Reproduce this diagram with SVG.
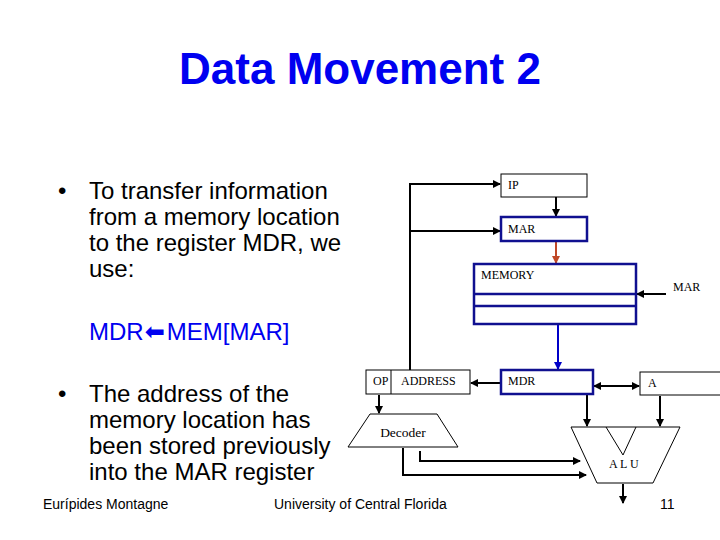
<svg xmlns="http://www.w3.org/2000/svg" width="720" height="540" viewBox="0 0 720 540">
<defs>
<style>
.sans{font-family:"Liberation Sans",Arial,sans-serif}
.serif{font-family:"Liberation Serif","Times New Roman",serif;font-size:12px;fill:#000}
.title{font-size:44px;font-weight:bold;fill:#0000f0}
.body{font-size:24px;fill:#000}
.foot{font-size:14px;fill:#000}
.thin{fill:#fff;stroke:#000;stroke-width:1}
.reg{fill:#fff;stroke:#101090;stroke-width:2.5}
.wire{fill:none;stroke:#000;stroke-width:2}
</style>
<marker id="ah" viewBox="0 0 8 8" refX="7" refY="4" markerWidth="8" markerHeight="8" markerUnits="userSpaceOnUse" orient="auto-start-reverse"><path d="M0,0 L8,4 L0,8 Z" fill="#000"/></marker>
<marker id="ahb" viewBox="0 0 8 8" refX="7" refY="4" markerWidth="8" markerHeight="8" markerUnits="userSpaceOnUse" orient="auto-start-reverse"><path d="M0,0 L8,4 L0,8 Z" fill="#0000c8"/></marker>
<marker id="ahr" viewBox="0 0 8 8" refX="7" refY="4" markerWidth="8" markerHeight="8" markerUnits="userSpaceOnUse" orient="auto-start-reverse"><path d="M0,0 L8,4 L0,8 Z" fill="#c04828"/></marker>
</defs>
<rect width="720" height="540" fill="#fff"/>
<text class="sans title" x="360" y="84" text-anchor="middle">Data Movement 2</text>
<g id="bullet1" class="sans body">
<text x="58" y="199">•</text>
<text x="89" y="199">To transfer information</text>
<text x="89" y="225">from a memory location</text>
<text x="89" y="251">to the register MDR, we</text>
<text x="89" y="277">use:</text>
</g>
<text class="sans body" x="89" y="340" fill="#0000f0" style="fill:#0000f0">MDR<tspan font-family="DejaVu Sans" dx="1">⬅</tspan><tspan dx="2">MEM[MAR]</tspan></text>
<g id="bullet2" class="sans body">
<text x="58" y="402">•</text>
<text x="89" y="402">The address of the</text>
<text x="89" y="428">memory location has</text>
<text x="89" y="454">been stored previously</text>
<text x="89" y="480">into the MAR register</text>
</g>
<g id="footer" class="sans foot">
<text x="43" y="509">Eurípides Montagne</text>
<text x="274" y="509">University of Central Florida</text>
<text x="660" y="509">11</text>
</g>
<g id="connectors">
<path class="wire" d="M410,370 V184 H500" marker-end="url(#ah)"/>
<path class="wire" d="M410,231 H500" marker-end="url(#ah)"/>
<path class="wire" d="M556,197 V216" marker-end="url(#ah)"/>
<path d="M556,242 V263" fill="none" stroke="#c04828" stroke-width="2" marker-end="url(#ahr)"/>
<path class="wire" d="M666,294 H637" marker-end="url(#ah)"/>
<path d="M558,369 V307" fill="none" stroke="#0000c8" stroke-width="2" marker-start="url(#ahb)" marker-end="url(#ahb)"/>
<path class="wire" d="M500,383 H471" marker-end="url(#ah)"/>
<path class="wire" d="M594,386 H639" marker-start="url(#ah)" marker-end="url(#ah)"/>
<path class="wire" d="M379,395 V413" marker-end="url(#ah)"/>
<path class="wire" d="M587,395 V426" marker-end="url(#ah)"/>
<path class="wire" d="M660,396 V426" marker-end="url(#ah)"/>
<path class="wire" d="M403,448 V475 H586" marker-end="url(#ah)"/>
<path class="wire" d="M420,451 V461 H580" marker-end="url(#ah)"/>
<path class="wire" d="M623,484 V503" marker-end="url(#ah)"/>
</g>
<g id="IP">
<rect class="thin" x="501" y="174" width="86" height="23"/>
<text class="serif" x="508" y="189">IP</text>
</g>
<g id="MAR">
<rect class="reg" x="501" y="217" width="86" height="24"/>
<text class="serif" x="508" y="233">MAR</text>
</g>
<g id="MEMORY">
<rect class="reg" x="474" y="264" width="162" height="60"/>
<line x1="474" y1="294" x2="636" y2="294" stroke="#101090" stroke-width="2.5"/>
<line x1="474" y1="306" x2="636" y2="306" stroke="#101090" stroke-width="2.5"/>
<text class="serif" x="481" y="279">MEMORY</text>
</g>
<g id="MAR-label">
<text class="serif" x="673" y="291">MAR</text>
</g>
<g id="OPADDRESS">
<rect class="thin" x="366" y="370" width="104" height="24"/>
<line x1="391" y1="370" x2="391" y2="394" stroke="#000" stroke-width="1"/>
<text class="serif" x="373" y="385">OP</text>
<text class="serif" x="401" y="385">ADDRESS</text>
</g>
<g id="MDR">
<rect class="reg" x="501" y="370" width="92" height="24"/>
<text class="serif" x="508" y="385">MDR</text>
</g>
<g id="A">
<rect class="thin" x="640" y="372" width="90" height="23"/>
<text class="serif" x="648" y="387">A</text>
</g>
<g id="Decoder">
<polygon class="thin" points="370,414 437,414 458,447 348,447"/>
<text class="serif" x="403" y="437" text-anchor="middle" style="font-size:13.5px">Decoder</text>
</g>
<g id="ALU">
<polygon class="thin" points="571,427 680,427 653,483 597,483"/>
<polyline points="606,427 623,455 636,427" fill="none" stroke="#000" stroke-width="1"/>
<text class="serif" x="609" y="468" letter-spacing="0">A L U</text>
</g>
</svg>
